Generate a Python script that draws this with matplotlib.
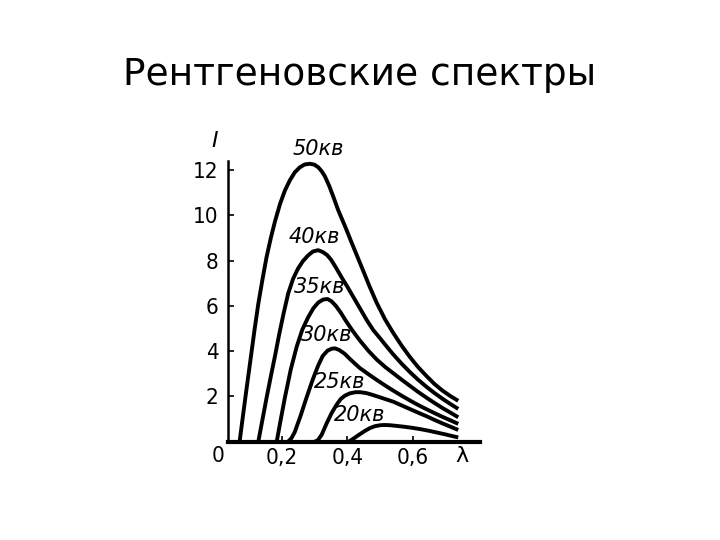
import matplotlib
matplotlib.use('Agg')
import matplotlib.pyplot as plt
from matplotlib import font_manager

# --- данные (λ, I) ---
voltages = ['50кв', '40кв', '35кв', '30кв', '25кв', '20кв']

lam_50 = [0.072, 0.080, 0.090, 0.104, 0.118, 0.129, 0.142, 0.154, 0.167, 0.180, 0.195,
          0.210, 0.225, 0.240, 0.255, 0.270, 0.286, 0.300, 0.312, 0.322, 0.332, 0.345,
          0.358, 0.372, 0.395, 0.413, 0.430, 0.447, 0.468, 0.489, 0.515, 0.540, 0.565,
          0.590, 0.615, 0.641, 0.665, 0.690, 0.715, 0.738]
int_50 = [0.0, 0.9, 2.0, 3.5, 5.0, 6.1, 7.2, 8.15, 9.0, 9.75, 10.5,
          11.1, 11.55, 11.9, 12.12, 12.25, 12.28, 12.24, 12.12, 11.95, 11.72, 11.3,
          10.8, 10.24, 9.45, 8.8, 8.2, 7.6, 6.85, 6.15, 5.4, 4.8, 4.25,
          3.75, 3.3, 2.9, 2.55, 2.25, 2.0, 1.8]

lam_40 = [0.129, 0.140, 0.155, 0.168, 0.180, 0.192, 0.205, 0.220, 0.235, 0.250, 0.265,
          0.280, 0.295, 0.311, 0.325, 0.338, 0.350, 0.365, 0.383, 0.400, 0.418, 0.440,
          0.460, 0.479, 0.500, 0.520, 0.540, 0.565, 0.590, 0.615, 0.641, 0.665, 0.690,
          0.715, 0.738]
int_40 = [0.0, 0.85, 2.0, 2.95, 3.8, 4.7, 5.6, 6.55, 7.2, 7.65, 7.98,
          8.22, 8.4, 8.46, 8.38, 8.25, 8.05, 7.7, 7.25, 6.85, 6.4, 5.85,
          5.35, 4.93, 4.56, 4.2, 3.85, 3.45, 3.08, 2.74, 2.42, 2.15, 1.89,
          1.65, 1.44]

lam_35 = [0.185, 0.197, 0.210, 0.228, 0.246, 0.263, 0.281, 0.297, 0.312, 0.327, 0.340,
          0.352, 0.365, 0.380, 0.395, 0.415, 0.438, 0.465, 0.490, 0.515, 0.540, 0.565,
          0.590, 0.615, 0.641, 0.665, 0.690, 0.715, 0.738]
int_35 = [0.0, 0.95, 1.95, 3.2, 4.2, 4.95, 5.5, 5.9, 6.15, 6.28, 6.3,
          6.2, 6.0, 5.7, 5.35, 4.92, 4.47, 4.0, 3.62, 3.3, 3.02, 2.74,
          2.47, 2.2, 1.94, 1.71, 1.48, 1.27, 1.07]

lam_30 = [0.220, 0.230, 0.240, 0.258, 0.276, 0.295, 0.311, 0.325, 0.340, 0.352, 0.362,
          0.375, 0.392, 0.410, 0.438, 0.465, 0.490, 0.515, 0.540, 0.565, 0.590, 0.615,
          0.641, 0.665, 0.690, 0.715, 0.738]
int_30 = [0.0, 0.15, 0.42, 1.15, 1.95, 2.75, 3.35, 3.78, 4.02, 4.1, 4.12,
          4.05, 3.88, 3.62, 3.25, 2.97, 2.72, 2.48, 2.25, 2.03, 1.82, 1.62,
          1.43, 1.26, 1.09, 0.93, 0.78]

lam_25 = [0.301, 0.310, 0.322, 0.337, 0.352, 0.367, 0.380, 0.393, 0.408, 0.425, 0.440,
          0.458, 0.475, 0.490, 0.515, 0.540, 0.565, 0.590, 0.615, 0.641, 0.665, 0.690,
          0.715, 0.738]
int_25 = [0.0, 0.05, 0.3, 0.8, 1.25, 1.62, 1.88, 2.03, 2.13, 2.18, 2.18,
          2.14, 2.07, 2.0, 1.88, 1.76, 1.6, 1.44, 1.28, 1.12, 0.96, 0.8,
          0.65, 0.51]

lam_20 = [0.405, 0.420, 0.438, 0.455, 0.470, 0.485, 0.500, 0.514, 0.530, 0.550, 0.575,
          0.600, 0.625, 0.650, 0.675, 0.700, 0.720, 0.738]
int_20 = [0.0, 0.14, 0.32, 0.48, 0.6, 0.68, 0.72, 0.73, 0.72, 0.69, 0.65,
          0.6, 0.54, 0.47, 0.39, 0.31, 0.24, 0.18]

# подписи кривых (λ, I)
label_lam = [0.311, 0.301, 0.317, 0.337, 0.377, 0.438]
label_int = [12.95, 9.06, 6.85, 4.71, 2.65, 1.17]

x_ticks = [0.2, 0.4, 0.6]
x_tick_labels = ['0,2', '0,4', '0,6']
y_ticks = [2, 4, 6, 8, 10, 12]
y_tick_labels = ['2', '4', '6', '8', '10', '12']

curves = [(lam_50, int_50), (lam_40, int_40), (lam_35, int_35),
          (lam_30, int_30), (lam_25, int_25), (lam_20, int_20)]

# узкий шрифт для цифр на осях, если он есть
ttf = font_manager.fontManager.ttflist
names = {f.name for f in ttf}
if 'Liberation Sans Narrow' in names:
    tick_font = dict(family='Liberation Sans Narrow')
else:
    tick_font = dict(family='DejaVu Sans', stretch='condensed')

fig = plt.figure(figsize=(7.2, 5.4), dpi=100)
fig.patch.set_facecolor('white')

# заголовок слайда (в оригинале шрифт немного растянут по ширине)
fig.text(0.5, 1 - 85 / 540, 'Рентгеновские спектры', ha='center', va='baseline',
         fontsize=27, family='DejaVu Sans')

ax = fig.add_axes([216 / 720, (540 - 441.5) / 540, 279 / 720, 294 / 540])
ax.set_xlim(0, 0.85)
ax.set_ylim(0, 13.0)

for (lx, ly) in curves:
    ax.plot(lx, ly, color='black', lw=2.8, solid_capstyle='butt', solid_joinstyle='round',
            clip_on=False)

for name, lx, ly in zip(voltages, label_lam, label_int):
    ax.text(lx, ly, name, ha='center', va='center', fontsize=15, style='italic',
            family='DejaVu Sans', clip_on=False)

y_axis_x = 0.037
ax.spines['top'].set_visible(False)
ax.spines['right'].set_visible(False)
ax.spines['left'].set_position(('data', y_axis_x))
ax.spines['left'].set_bounds(0, 12.4)
ax.spines['left'].set_linewidth(1.8)
ax.spines['bottom'].set_bounds(y_axis_x, 0.804)
ax.spines['bottom'].set_linewidth(3)

ax.set_xticks(x_ticks)
ax.set_xticklabels(x_tick_labels, fontsize=16, **tick_font)
ax.set_yticks(y_ticks)
ax.set_yticklabels(y_tick_labels, fontsize=16, **tick_font)
ax.tick_params(axis='x', direction='in', length=4, width=1.2, pad=5)
ax.tick_params(axis='y', direction='in', length=4, width=1.2, pad=7)

# угол "0", обозначения осей
ax.text(0.006, -0.65, '0', ha='center', va='center', fontsize=16, clip_on=False, **tick_font)
ax.text(0.748, -0.65, 'λ', ha='center', va='center', fontsize=16, clip_on=False,
        family='DejaVu Sans')
ax.text(-0.003, 13.3, 'I', ha='center', va='center', fontsize=16, style='italic',
        family='DejaVu Sans', clip_on=False)

fig.savefig('out.png', dpi=100, facecolor='white')
